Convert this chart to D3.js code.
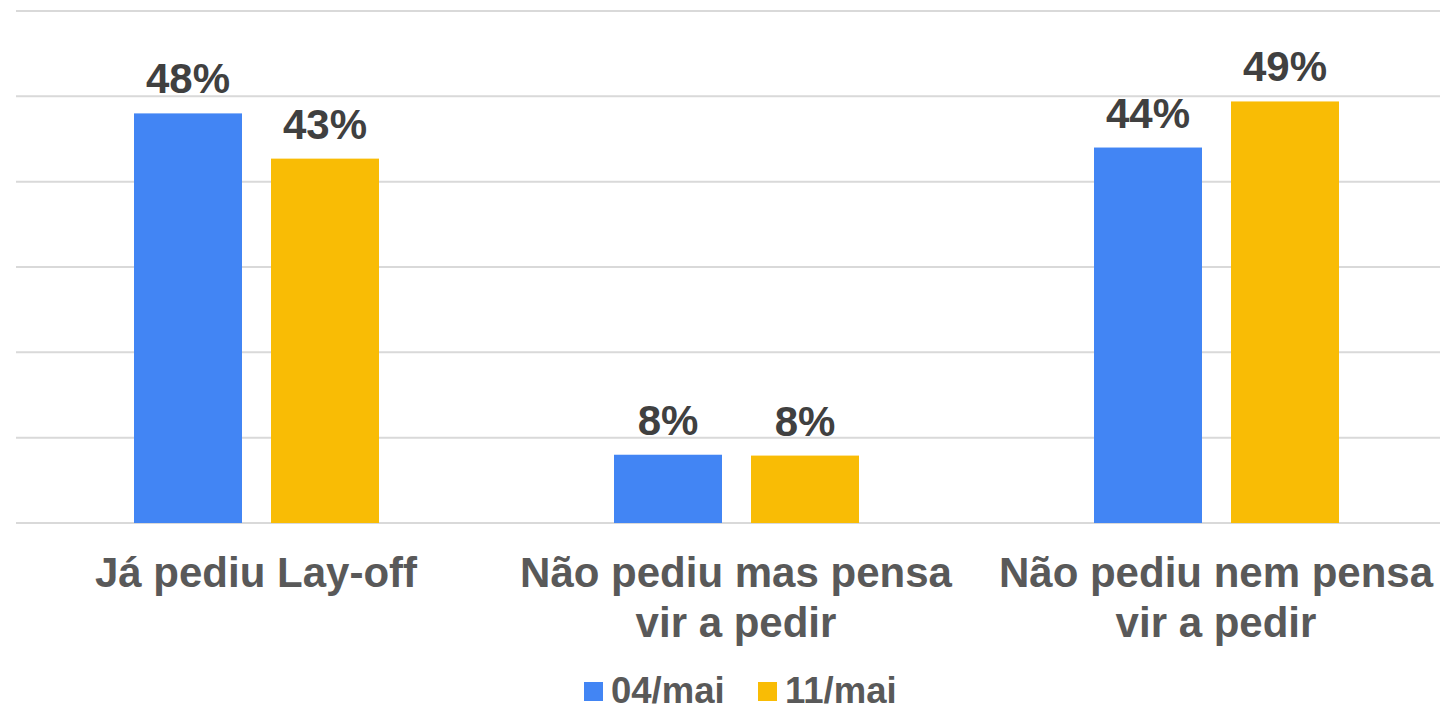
<!DOCTYPE html>
<html>
<head>
<meta charset="utf-8">
<script src="https://cdn.jsdelivr.net/npm/d3@7/dist/d3.min.js"></script>
<style>
  html, body { margin: 0; padding: 0; background: #fff; }
  svg { display: block; font-family: "Liberation Sans", Arial, sans-serif; }
</style>
</head>
<body>
<div id="chart"></div>
<script>
// ========= DATA =========
const categories = [
  ["Já pediu Lay-off"],
  ["Não pediu mas pensa", "vir a pedir"],
  ["Não pediu nem pensa", "vir a pedir"]
];
const seriesNames = ["04/mai", "11/mai"];
const serie0405 = [48.0, 8.0, 44.0];
const serie1105 = [42.7, 7.9, 49.4];
const yTicks = [0, 10, 20, 30, 40, 50, 60];

const COLORS = ["#4285F4", "#F9BC05"];

// ========= LAYOUT =========
const width = 1440, height = 705;
const svg = d3.select("#chart").append("svg")
  .attr("width", width)
  .attr("height", height);

const x = d3.scaleBand()
  .domain(d3.range(categories.length))
  .range([16, 1456])
  .paddingInner(0)
  .paddingOuter(0);

// barras dentro de cada banda: 118px margem, 108 largura, 29 de separação
const x1 = d3.scaleBand()
  .domain(d3.range(seriesNames.length))
  .range([118, 118 + 108 * 2 + 29])
  .paddingInner(29 / 137)
  .paddingOuter(0);

const y = d3.scaleLinear().domain([0, 60]).range([523, 11]);

// gridlines
svg.append("g")
  .selectAll("line")
  .data(yTicks)
  .join("line")
  .attr("x1", 16)
  .attr("x2", width)
  .attr("y1", d => y(d))
  .attr("y2", d => y(d))
  .attr("stroke", "#d9d9d9")
  .attr("stroke-width", 2);

// barras
const rows = categories.map((c, i) => [serie0405[i], serie1105[i]]);

const groups = svg.append("g")
  .selectAll("g")
  .data(rows)
  .join("g")
  .attr("transform", (d, i) => `translate(${x(i)},0)`);

groups.selectAll("rect")
  .data(d => d.map((v, s) => ({ v, s })))
  .join("rect")
  .attr("x", d => x1(d.s))
  .attr("width", x1.bandwidth())
  .attr("y", d => y(d.v))
  .attr("height", d => y(0) - y(d.v))
  .attr("fill", d => COLORS[d.s]);

// rótulos de valor
groups.selectAll("text")
  .data(d => d.map((v, s) => ({ v, s })))
  .join("text")
  .attr("x", d => x1(d.s) + x1.bandwidth() / 2)
  .attr("y", d => y(d.v) - 20)
  .attr("text-anchor", "middle")
  .attr("font-size", 42)
  .attr("font-weight", "bold")
  .attr("fill", "#404040")
  .text(d => Math.round(d.v) + "%");

// categorias
const catG = svg.append("g");
categories.forEach((lines, i) => {
  const t = catG.append("text")
    .attr("text-anchor", "middle")
    .attr("font-size", 42)
    .attr("font-weight", "bold")
    .attr("fill", "#595959");
  lines.forEach((ln, k) => {
    t.append("tspan")
      .attr("x", x(i) + x.bandwidth() / 2)
      .attr("y", 587 + k * 50)
      .text(ln);
  });
});

// legenda
const legendItems = [584, 758];
const leg = svg.append("g");
seriesNames.forEach((name, s) => {
  const lx = legendItems[s];
  leg.append("rect")
    .attr("x", lx)
    .attr("y", 682)
    .attr("width", 19)
    .attr("height", 19)
    .attr("fill", COLORS[s]);
  leg.append("text")
    .attr("x", lx + 27)
    .attr("y", 703)
    .attr("font-size", 36.5)
    .attr("font-weight", "bold")
    .attr("fill", "#595959")
    .text(name);
});
</script>
</body>
</html>
